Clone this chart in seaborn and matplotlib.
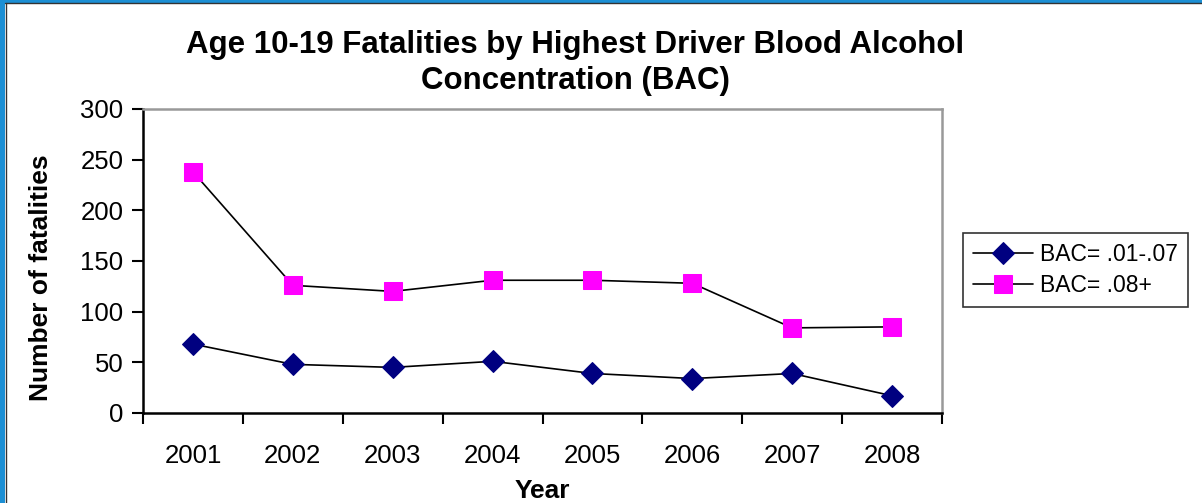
import pandas as pd
import matplotlib.pyplot as plt
import matplotlib.ticker as mticker
from matplotlib.patches import Rectangle
from matplotlib.lines import Line2D
import seaborn as sns

years = ["2001", "2002", "2003", "2004", "2005", "2006", "2007", "2008"]
bac_low = [68, 48, 45, 51, 39, 34, 39, 17]
bac_high = [238, 126, 120, 131, 131, 128, 84, 85]
series_names = ["BAC= .01-.07", "BAC= .08+"]

sns.set_style("white")
plt.rcParams['font.family'] = ['Liberation Sans', 'DejaVu Sans']
plt.rcParams['text.color'] = 'black'
plt.rcParams['axes.labelcolor'] = 'black'
plt.rcParams['xtick.color'] = 'black'
plt.rcParams['ytick.color'] = 'black'

W, H = 1202, 503
fig = plt.figure(figsize=(W / 100, H / 100), dpi=100)
ax = fig.add_axes([143 / W, 1 - 413 / H, (942 - 143) / W, (413 - 109) / H])

# blue frame on the top and left edges
fig.add_artist(Rectangle((0, 0), 5 / W, 1, transform=fig.transFigure,
                         facecolor='#1c8fd4', edgecolor='none', zorder=10))
fig.add_artist(Rectangle((0, 1 - 2.5 / H), 1, 2.5 / H, transform=fig.transFigure,
                         facecolor='#1c8fd4', edgecolor='none', zorder=10))
fig.add_artist(Line2D([5.5 / W, 5.5 / W], [0, 1 - 2.5 / H], transform=fig.transFigure,
                      color='#333333', linewidth=1, zorder=11))
fig.add_artist(Line2D([5 / W, 1], [1 - 3 / H, 1 - 3 / H], transform=fig.transFigure,
                      color='#333333', linewidth=1, zorder=11))

x = list(range(len(years)))
df_low = pd.DataFrame({"x": x, "value": bac_low})
df_high = pd.DataFrame({"x": x, "value": bac_high})

sns.lineplot(data=df_low, x="x", y="value", ax=ax, color="black", linewidth=1.2,
             marker="D", markersize=11, markerfacecolor="#000080", markeredgecolor="#000080",
             label=series_names[0])
sns.lineplot(data=df_high, x="x", y="value", ax=ax, color="black", linewidth=1.2,
             marker="s", markersize=13, markerfacecolor="#ff00ff", markeredgecolor="#ff00ff",
             label=series_names[1])

ax.set_xlim(-0.5, len(years) - 0.5)
ax.set_ylim(0, 300)
ax.yaxis.set_major_locator(mticker.MultipleLocator(50))

# category ticks at boundaries, labels in the middle
ax.xaxis.set_major_locator(mticker.FixedLocator([i - 0.5 for i in range(len(years) + 1)]))
ax.xaxis.set_major_formatter(mticker.NullFormatter())
ax.xaxis.set_minor_locator(mticker.FixedLocator(x))
ax.xaxis.set_minor_formatter(mticker.FixedFormatter(years))
ax.tick_params(axis="x", which="major", direction="out", length=8, width=1.5, bottom=True)
ax.tick_params(axis="x", which="minor", length=0, pad=22, labelsize=18.5)
ax.tick_params(axis="y", direction="out", length=8, width=1.5, left=True, labelsize=18.5, pad=6)

for side in ["left", "bottom"]:
    ax.spines[side].set_color("black")
    ax.spines[side].set_linewidth(1.8)
for side in ["top", "right"]:
    ax.spines[side].set_color("#999999")
    ax.spines[side].set_linewidth(1.8)

ax.set_xlabel("Year", fontsize=19, fontweight="bold", labelpad=8)
ax.set_ylabel("Number of fatalities", fontsize=19, fontweight="bold")
ax.yaxis.set_label_coords((53 - 143) / 799, (413 - 278) / 304)
ax.grid(False)

fig.text(575 / W, 1 - 63 / H,
         "Age 10-19 Fatalities by Highest Driver Blood Alcohol\nConcentration (BAC)",
         ha="center", va="center", fontsize=22.5, fontweight="bold", linespacing=1.25)

leg = ax.legend(loc="center left", bbox_to_anchor=(963 / W, 1 - 270 / H),
                bbox_transform=fig.transFigure, frameon=True, fancybox=False,
                fontsize=16.5, edgecolor="black", handlelength=2.6, handletextpad=0.3,
                borderpad=0.45, borderaxespad=0, labelspacing=0.35)
leg.get_frame().set_linewidth(1.2)

plt.savefig("out.png", dpi=100)
